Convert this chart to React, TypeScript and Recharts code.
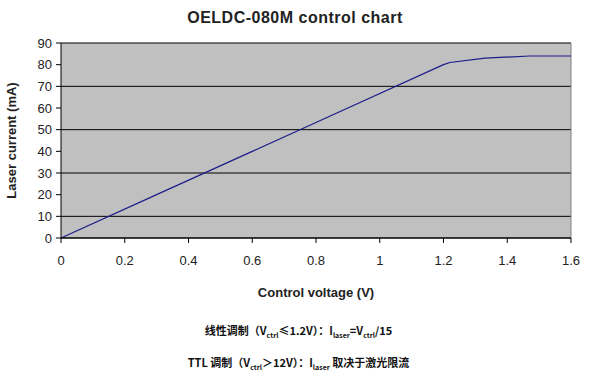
import { LineChart, Line, XAxis, YAxis, CartesianGrid, ReferenceLine, Label } from 'recharts'

const voltages = [0, 0.3, 0.6, 0.9, 1.2, 1.22, 1.33, 1.47, 1.6]
const currents = [0, 20, 40, 60, 80, 81, 83, 84, 84]
const xTicks = [0, 0.2, 0.4, 0.6, 0.8, 1, 1.2, 1.4, 1.6]
const yTicks = [0, 10, 20, 30, 40, 50, 60, 70, 80, 90]

const data = voltages.map((v, i) => ({ v, i: currents[i] }))

const tickStyle = { fontSize: 13, fill: '#222', fontFamily: '"Liberation Sans", Arial, sans-serif' }
const labelFont = '"Liberation Sans", Arial, sans-serif'
const noteFont = '"Noto Sans CJK SC", "Liberation Sans", sans-serif'

const subStyle = { fontSize: 7, verticalAlign: 'sub' as const }

export default function App() {
  return (
    <div style={{ position: 'absolute', left: 0, top: 0, width: 597, height: 378, background: '#fff' }}>
      <div
        style={{
          position: 'absolute',
          top: 9,
          left: 0,
          width: 590,
          textAlign: 'center',
          fontFamily: labelFont,
          fontWeight: 'bold',
          fontSize: 16,
          letterSpacing: 0.5,
          color: '#222',
        }}
      >
        OELDC-080M control chart
      </div>
      <LineChart width={597} height={378} data={data} margin={{ top: 43, right: 26, bottom: 80, left: 20 }}>
        <CartesianGrid vertical={false} stroke="#000" strokeWidth={1} fill="#c0c0c0" fillOpacity={1} />
        <XAxis
          dataKey="v"
          type="number"
          domain={[0, 1.6]}
          ticks={xTicks}
          height={60}
          tick={tickStyle}
          tickSize={5}
          tickMargin={13}
          stroke="#000"
        >
          <Label
            value="Control voltage (V)"
            position="insideBottom"
            offset={1}
            style={{ fontSize: 13, fontWeight: 'bold', fill: '#222', fontFamily: labelFont }}
          />
        </XAxis>
        <YAxis
          type="number"
          domain={[0, 90]}
          ticks={yTicks}
          width={41}
          tick={tickStyle}
          tickSize={5}
          tickMargin={4}
          stroke="#000"
        >
          <Label
            value="Laser current (mA)"
            angle={-90}
            position="insideLeft"
            offset={-9}
            style={{ fontSize: 13, fontWeight: 'bold', fill: '#222', fontFamily: labelFont, textAnchor: 'middle' }}
          />
        </YAxis>
        <ReferenceLine x={1.6} stroke="#808080" />
        <Line
          type="linear"
          dataKey="i"
          stroke="#1c1c8a"
          strokeWidth={1.2}
          dot={false}
          isAnimationActive={false}
        />
      </LineChart>
      <div
        style={{
          position: 'absolute',
          top: 322,
          left: 0,
          width: 597,
          textAlign: 'center',
          fontFamily: noteFont,
          fontWeight: 'bold',
          fontSize: 11,
          color: '#111',
        }}
      >
        线性调制（V<span style={subStyle}>ctrl</span>≤1.2V）：I<span style={subStyle}>laser</span>=V
        <span style={subStyle}>ctrl</span>/15
      </div>
      <div
        style={{
          position: 'absolute',
          top: 354,
          left: 0,
          width: 597,
          textAlign: 'center',
          fontFamily: noteFont,
          fontWeight: 'bold',
          fontSize: 11,
          color: '#111',
        }}
      >
        TTL 调制（V<span style={subStyle}>ctrl</span>＞12V）：I<span style={subStyle}>laser</span> 取决于激光限流
      </div>
    </div>
  )
}
